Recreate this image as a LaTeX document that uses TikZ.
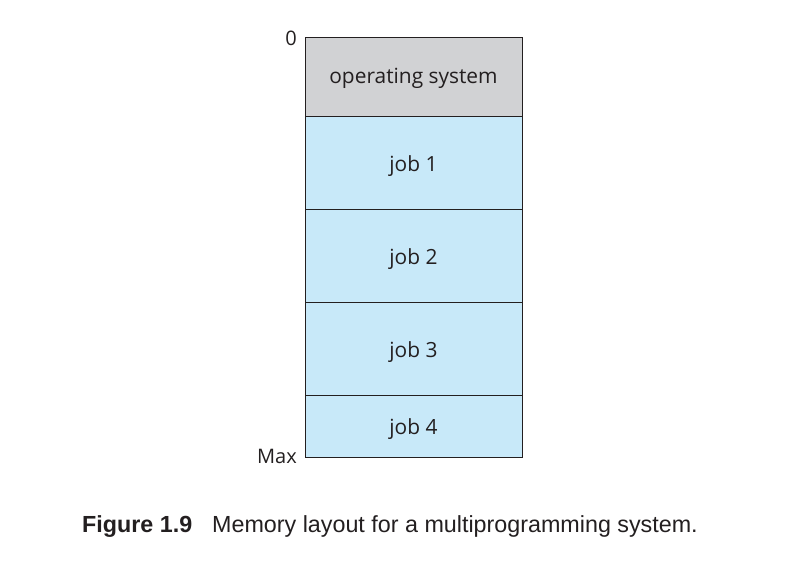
\documentclass[tikz,border=0pt]{standalone}
\usepackage{fontspec}
\setmainfont{Open Sans}
\newfontfamily\capfont{Liberation Sans}
\definecolor{osgray}{HTML}{D1D2D4}
\definecolor{jobblue}{HTML}{C8E9F9}
\definecolor{ink}{HTML}{231F20}
\begin{document}
\begin{tikzpicture}[x=1pt,y=-1pt,
  seg/.style={draw=ink,line width=1pt,minimum width=217pt,inner sep=0pt,outer sep=0pt,anchor=north west,text=ink,text depth=0pt,text height=17pt,font=\fontsize{20.9}{22}\selectfont},
  lbl/.style={text=ink,inner sep=0pt,font=\fontsize{20}{22}\selectfont},
  captionstyle/.style={text=ink,inner sep=0pt,anchor=base west,font=\capfont\fontsize{23.3}{26}\selectfont}]
\useasboundingbox (0,0) rectangle (789,578);
\node[seg,fill=osgray,minimum height=78pt,text height=12.5pt] (os) at (305,38) {operating system};
\node[seg,fill=jobblue,minimum height=93pt] (j1) at (305,116) {job 1};
\node[seg,fill=jobblue,minimum height=93pt] (j2) at (305,209) {job 2};
\node[seg,fill=jobblue,minimum height=93pt] (j3) at (305,302) {job 3};
\node[seg,fill=jobblue,minimum height=62pt] (j4) at (305,395) {job 4};
\node[lbl,anchor=base east] (zero) at (297,46) {0};
\node[lbl,anchor=base east] (max) at (297,463) {Max};
\node[captionstyle] (fig) at (82,532) {\bfseries Figure 1.9};
\node[captionstyle] (captext) at (212,532) {Memory layout for a multiprogramming system.};
\end{tikzpicture}
\end{document}
